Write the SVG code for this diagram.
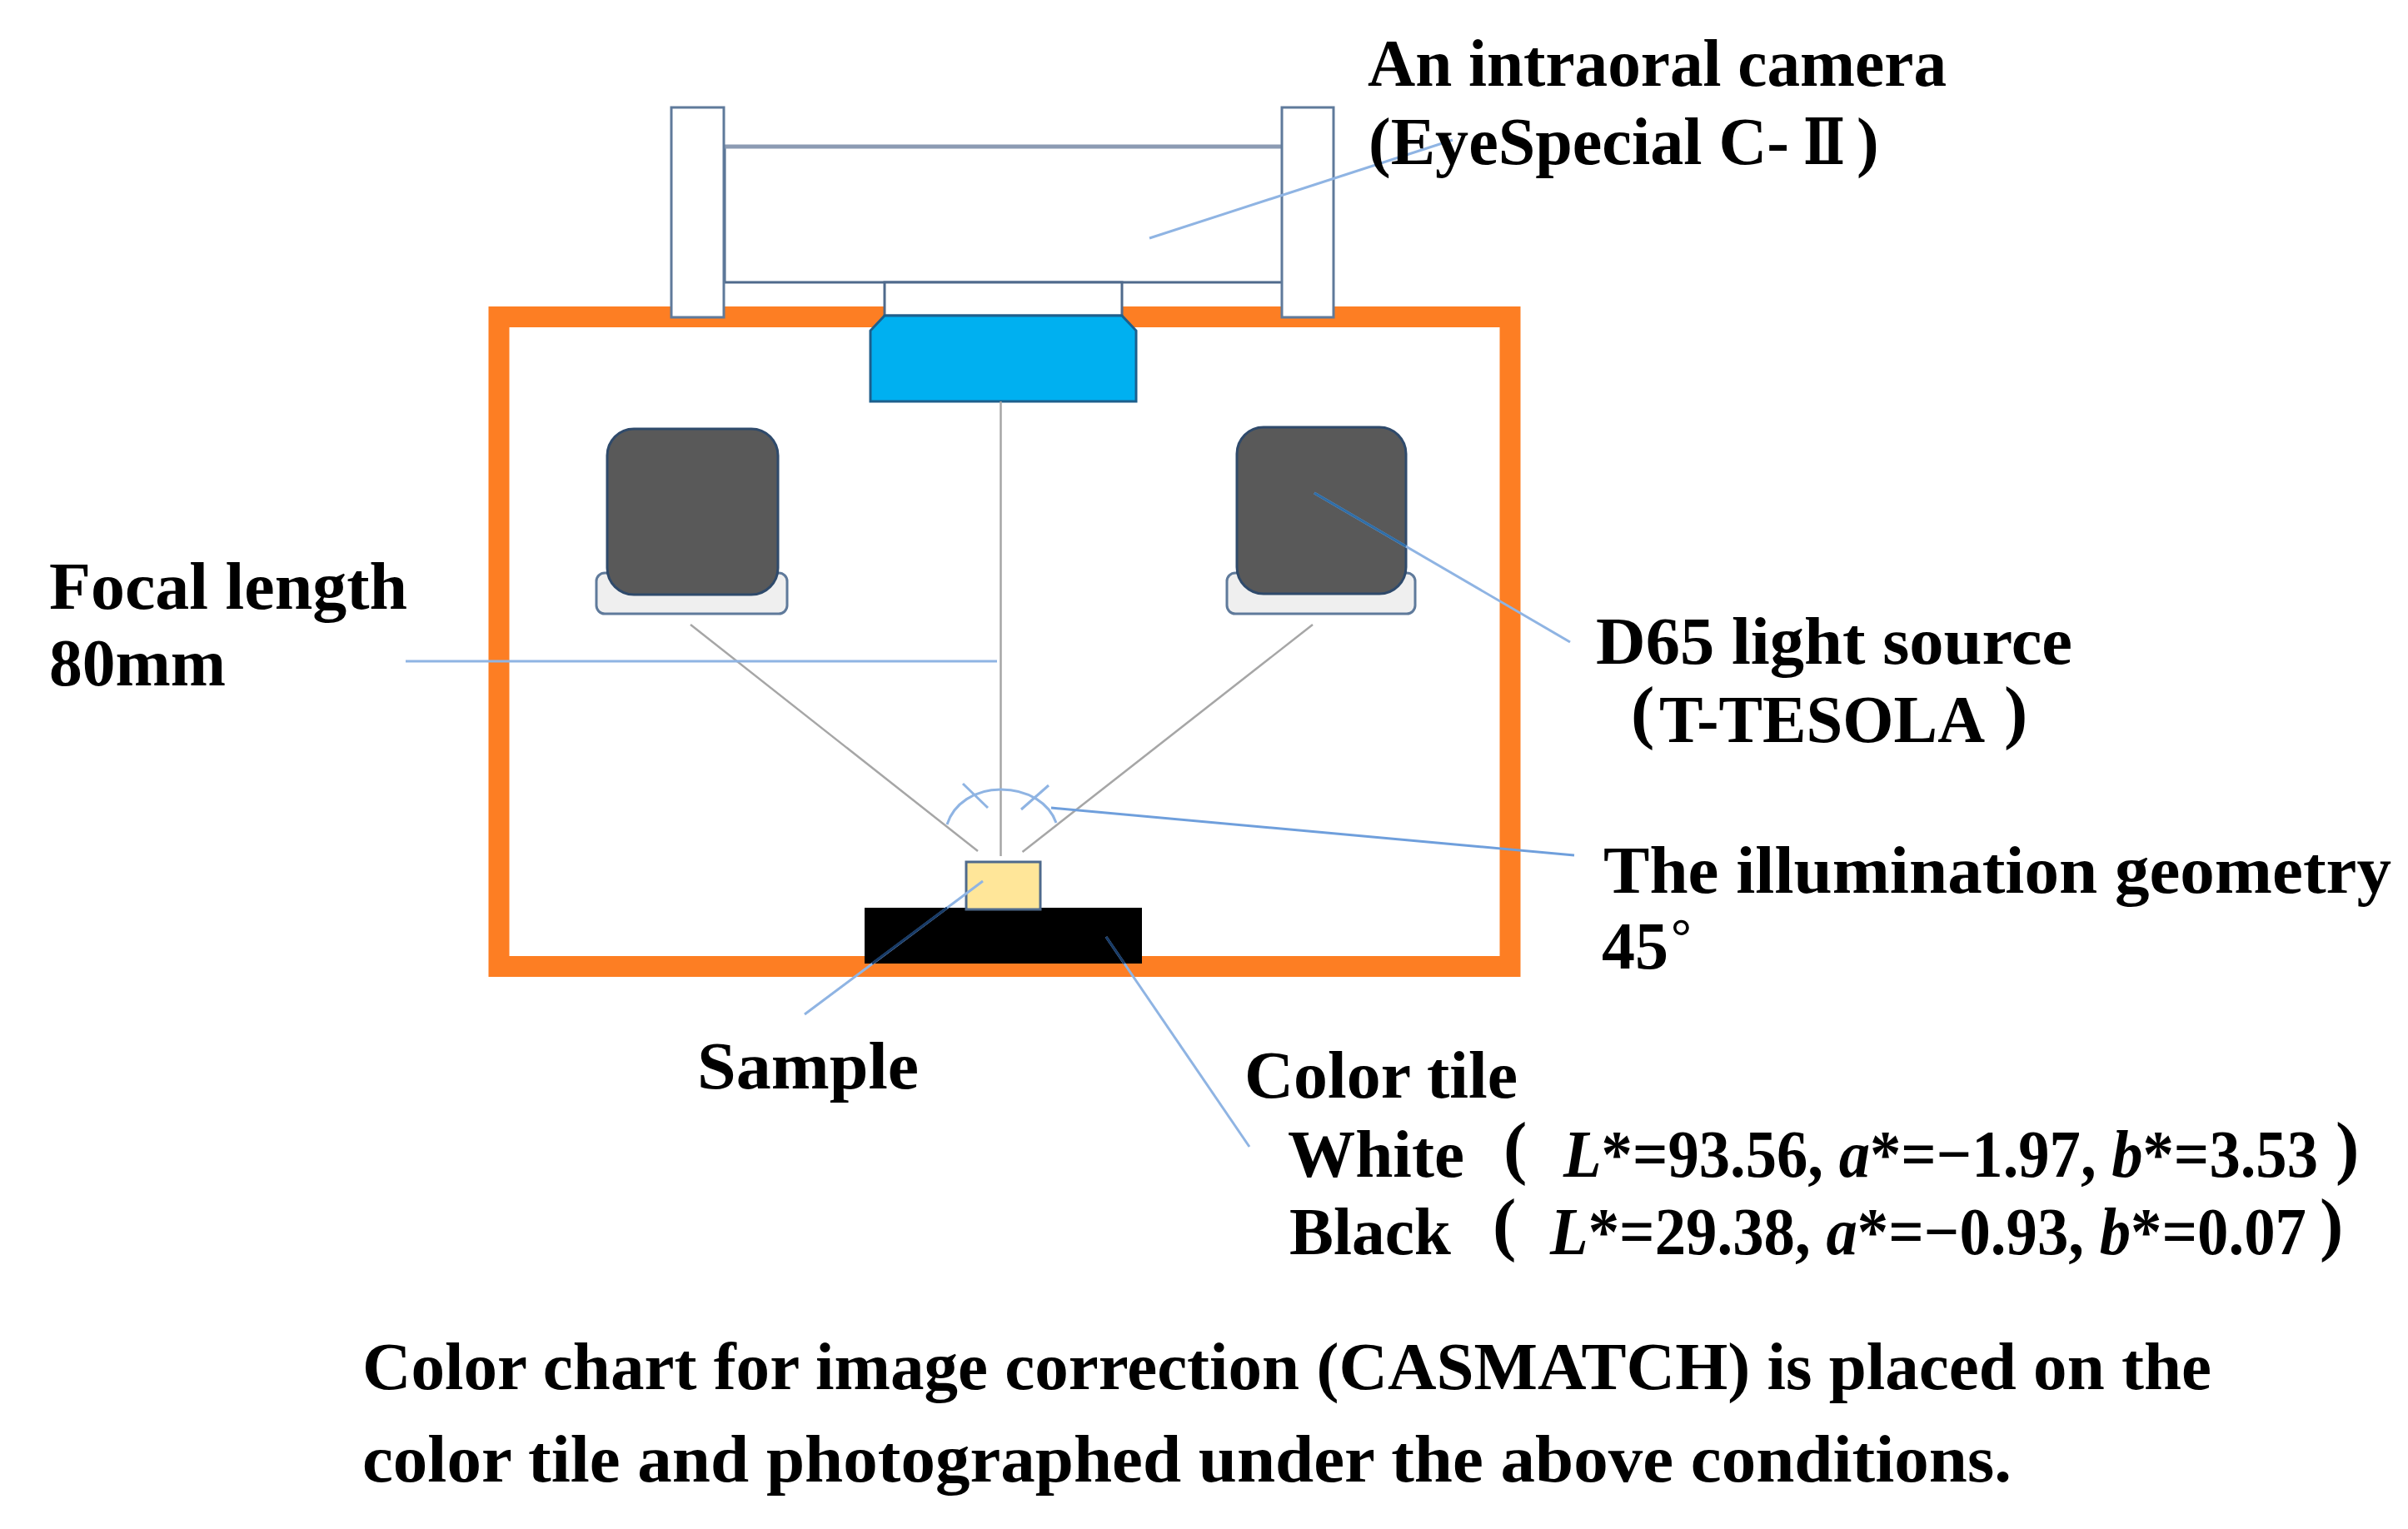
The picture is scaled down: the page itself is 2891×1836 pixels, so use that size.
<svg xmlns="http://www.w3.org/2000/svg" width="2891" height="1836" viewBox="0 0 2891 1836">
<style>
text{font-family:"Liberation Serif","Noto Sans CJK JP",serif;font-weight:700;font-size:80px;fill:#000}
.par{font-size:85px}
.num{font-family:"DejaVu Serif","Liberation Serif",serif;font-size:76px}
.i{font-style:italic}
.post{fill:#fff;stroke:#5f7a9b;stroke-width:3}
.body{fill:#fff;stroke:#4f6a8c;stroke-width:3}
.lamp{fill:#595959;stroke:#2f4a6b;stroke-width:3}
.base{fill:#efefef;stroke:#5f7a9b;stroke-width:3}
.lead{fill:none;stroke:#8fb4e3;stroke-width:3}
.leadd{fill:none;stroke:#173a66;stroke-width:3}
.ray{fill:none;stroke:#a6a6a6;stroke-width:2.500}
</style>
<rect width="2891" height="1836" fill="#fff"/>
<g id="chamber"><rect x="599" y="380.500" width="1214" height="780" fill="none" stroke="#fd7e23" stroke-width="25"/></g>
<g id="camera">
<rect class="body" x="870" y="176" width="671" height="163"/>
<path d="M870 176H1541" stroke="#8c9bb3" stroke-width="5" fill="none"/>
<rect class="post" x="806" y="129" width="63" height="252"/>
<rect class="post" x="1539" y="129" width="62" height="252"/>
<rect class="body" x="1062" y="339" width="285" height="40"/>
<path d="M1062 379H1347L1364 397V482H1045V397Z" fill="#00b0f0" stroke="#1d5f8c" stroke-width="3"/>
</g>
<g id="lamp-left">
<rect class="base" x="716" y="688" width="229" height="49" rx="10"/>
<rect class="lamp" x="729" y="515" width="205" height="199" rx="32"/>
</g>
<g id="lamp-right">
<rect class="base" x="1473" y="688" width="226" height="49" rx="10"/>
<rect class="lamp" x="1485" y="513" width="203" height="200" rx="32"/>
</g>
<g id="color-tile"><rect x="1038" y="1090" width="333" height="67" fill="#000"/></g>
<g id="sample"><rect x="1160" y="1035" width="89" height="57" fill="#ffe699" stroke="#4f6a8c" stroke-width="3"/></g>
<g id="connectors">
<path class="ray" d="M1201.500 482V1028"/>
<path class="ray" d="M829 750L1174 1022"/>
<path class="ray" d="M1576 750L1227.500 1023"/>
<path class="lead" d="M1137 990C1145 965 1170 948 1201.500 948C1235 948 1260 965 1268 988"/>
<path class="lead" d="M1156 941L1186 970M1259 943L1226 972"/>
<path class="lead" d="M1380 286L1744 168"/>
<path class="lead" d="M487 794H1197"/>
<path class="lead" d="M1578 592L1885 771"/>
<path class="leadd" style="stroke:#2f6ea8" d="M1578 592L1688 656"/>
<path class="lead" style="stroke:#6f9fdc" d="M1262 970L1890 1027"/>
<path class="lead" d="M1180 1058L966 1218"/>
<path class="leadd" d="M1137 1090L1047 1157"/>
<path class="lead" d="M1328 1125L1500 1377"/>
<path class="leadd" d="M1328 1125L1350 1157"/>
</g>
<g id="labels">
<text x="1642" y="103" textLength="695" lengthAdjust="spacingAndGlyphs">An intraoral camera</text>
<text x="1643" y="197" textLength="505" lengthAdjust="spacingAndGlyphs">(EyeSpecial C-</text>
<text class="num" x="2165" y="197" textLength="50" lengthAdjust="spacingAndGlyphs">Ⅱ</text>
<text x="2229" y="197">)</text>
<text x="59" y="731" textLength="430" lengthAdjust="spacingAndGlyphs">Focal length</text>
<text x="59" y="823" textLength="212" lengthAdjust="spacingAndGlyphs">80mm</text>
<text x="1916" y="797" textLength="572" lengthAdjust="spacingAndGlyphs">D65 light source</text>
<text class="par" x="1958" y="883">(</text>
<text x="1992" y="891" textLength="391" lengthAdjust="spacingAndGlyphs">T-TESOLA</text>
<text class="par" x="2406" y="883">)</text>
<text x="1925" y="1072" textLength="946" lengthAdjust="spacingAndGlyphs">The illumination geometry</text>
<text x="1923" y="1163">45<tspan dx="3" dy="-18" font-size="62">°</tspan></text>
<text x="837" y="1307" textLength="266" lengthAdjust="spacingAndGlyphs">Sample</text>
<text x="1494" y="1318" textLength="328" lengthAdjust="spacingAndGlyphs">Color tile</text>
<text x="1546" y="1413" textLength="212" lengthAdjust="spacingAndGlyphs">White</text>
<text class="par" x="1805" y="1406">(</text>
<text x="1877" y="1413" textLength="906" lengthAdjust="spacingAndGlyphs"><tspan class="i">L</tspan>*=93.56, <tspan class="i">a</tspan>*=−1.97, <tspan class="i">b</tspan>*=3.53</text>
<text class="par" x="2804" y="1406">)</text>
<text x="1548" y="1506" textLength="194" lengthAdjust="spacingAndGlyphs">Black</text>
<text class="par" x="1792" y="1498">(</text>
<text x="1861" y="1506" textLength="908" lengthAdjust="spacingAndGlyphs"><tspan class="i">L</tspan>*=29.38, <tspan class="i">a</tspan>*=−0.93, <tspan class="i">b</tspan>*=0.07</text>
<text class="par" x="2785" y="1498">)</text>
<text x="435" y="1668" textLength="2220" lengthAdjust="spacingAndGlyphs">Color chart for image correction (CASMATCH) is placed on the</text>
<text x="435" y="1779" textLength="1980" lengthAdjust="spacingAndGlyphs">color tile and photographed under the above conditions.</text>
</g>
</svg>
